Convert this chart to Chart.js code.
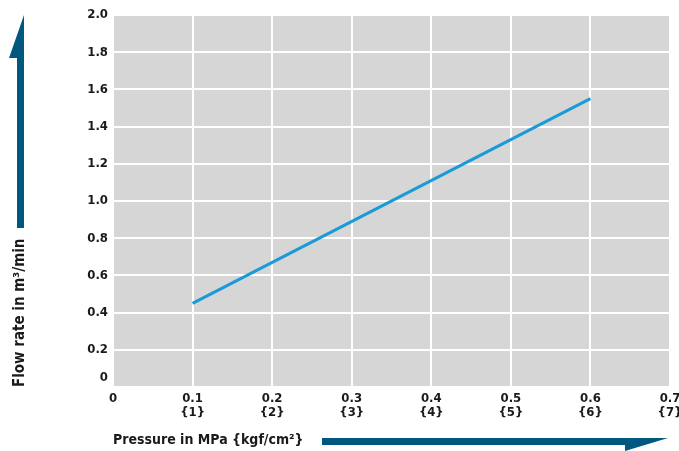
<!DOCTYPE html>
<html>
<head>
<meta charset="utf-8">
<script src="https://cdn.jsdelivr.net/npm/chart.js@4/dist/chart.umd.min.js"></script>
<style>
  html, body { margin: 0; padding: 0; background: #fff; }
  #wrap { width: 679px; height: 451px; }
</style>
</head>
<body>
<div id="wrap"><canvas id="flow"></canvas></div>
<script>
// data
const pressure = [0.1, 0.6];          // MPa
const flowRate = [0.45, 1.55];        // m3/min
const xTicks = [0, 0.1, 0.2, 0.3, 0.4, 0.5, 0.6, 0.7];
const kgfTicks = ['', '{1}', '{2}', '{3}', '{4}', '{5}', '{6}', '{7}'];
const yTicks = [0, 0.2, 0.4, 0.6, 0.8, 1.0, 1.2, 1.4, 1.6, 1.8, 2.0];

const FONT = "'Liberation Sans Narrow', 'DejaVu Sans Condensed', Arial, sans-serif";
const ARROW = '#00587f';

const points = pressure.map((p, i) => ({ x: p, y: flowRate[i] }));

const plotBg = {
  id: 'plotBg',
  beforeDraw(chart) {
    const { ctx, chartArea: a } = chart;
    ctx.save();
    ctx.fillStyle = '#d6d6d6';
    ctx.fillRect(a.left, a.top, a.right - a.left, a.bottom - a.top);
    ctx.restore();
  }
};

// the two arrows next to the axis titles
const arrows = {
  id: 'arrows',
  afterDraw(chart) {
    const ctx = chart.ctx;
    ctx.save();
    ctx.fillStyle = ARROW;
    ctx.beginPath();
    ctx.moveTo(24, 15);
    ctx.lineTo(24, 228);
    ctx.lineTo(17, 228);
    ctx.lineTo(17, 58);
    ctx.lineTo(9, 58);
    ctx.closePath();
    ctx.fill();
    ctx.beginPath();
    ctx.moveTo(322, 438);
    ctx.lineTo(668, 438);
    ctx.lineTo(625, 451);
    ctx.lineTo(625, 445);
    ctx.lineTo(322, 445);
    ctx.closePath();
    ctx.fill();
    ctx.restore();
  }
};

const noPad = s => { s.paddingLeft = 0; s.paddingRight = 0; s.paddingTop = 0; s.paddingBottom = 0; };

new Chart(document.getElementById('flow'), {
  type: 'line',
  data: {
    datasets: [{
      data: points,
      borderColor: '#1a9bd7',
      borderWidth: 3,
      pointRadius: 0,
      fill: false
    }]
  },
  options: {
    responsive: true,
    maintainAspectRatio: false,
    animation: false,
    layout: { padding: { top: 15, right: 9, left: 0, bottom: 0 } },
    plugins: { legend: { display: false }, tooltip: { enabled: false } },
    scales: {
      x: {
        type: 'linear',
        position: 'bottom',
        weight: 0,
        min: 0,
        max: 0.7,
        afterBuildTicks: s => { s.ticks = xTicks.map(v => ({ value: v })); },
        afterFit: s => { s.height = 18; noPad(s); },
        grid: { color: '#fff', lineWidth: 2, drawTicks: false },
        border: { display: false },
        ticks: {
          color: '#1a1a1a',
          padding: 4,
          maxRotation: 0,
          autoSkip: false,
          font: { family: FONT, size: 13, weight: 'bold' },
          callback: v => (v === 0 ? '0' : v.toFixed(1))
        }
      },
      x2: {
        type: 'linear',
        position: 'bottom',
        weight: 1,
        min: 0,
        max: 0.7,
        afterBuildTicks: s => { s.ticks = xTicks.map(v => ({ value: v })); },
        afterFit: s => { s.height = 46; noPad(s); },
        grid: { display: false, drawTicks: false },
        border: { display: false },
        ticks: {
          color: '#1a1a1a',
          padding: 0,
          maxRotation: 0,
          autoSkip: false,
          font: { family: FONT, size: 13, weight: '600' },
          callback: (v, i) => kgfTicks[i]
        },
        title: {
          display: true,
          align: 'start',
          text: 'Pressure in MPa {kgf/cm²}',
          color: '#1a1a1a',
          font: { family: FONT, size: 14, weight: 'bold' },
          padding: { top: 0, bottom: 2 }
        }
      },
      y: {
        type: 'linear',
        min: 0,
        max: 2.0,
        afterBuildTicks: s => { s.ticks = yTicks.map(v => ({ value: v })); },
        afterFit: s => { s.width = 113; noPad(s); },
        grid: { color: '#fff', lineWidth: 2, drawTicks: false },
        border: { display: false },
        ticks: {
          color: '#1a1a1a',
          padding: 5,
          autoSkip: false,
          font: { family: FONT, size: 13, weight: 'bold', lineHeight: 1.4 },
          callback: v => (v === 0 ? ['0', ''] : v.toFixed(1))
        },
        title: {
          display: true,
          align: 'start',
          text: 'Flow rate in m³/min',
          color: '#1a1a1a',
          font: { family: FONT, size: 15, weight: 'bold' },
          padding: { top: 11, bottom: 0 }
        }
      }
    }
  },
  plugins: [plotBg, arrows]
});
</script>
</body>
</html>
